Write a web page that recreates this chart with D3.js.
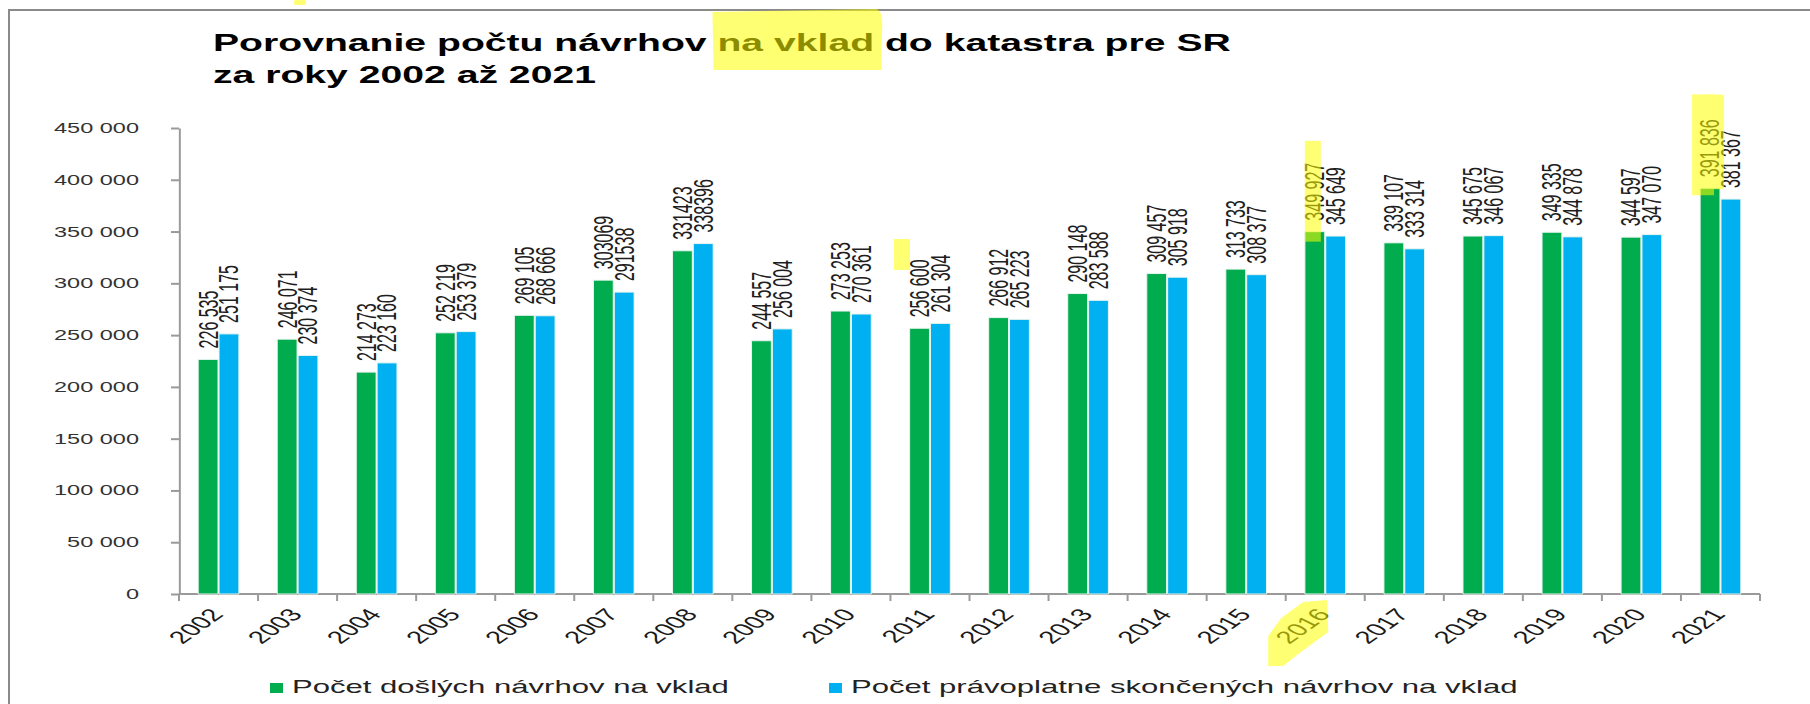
<!DOCTYPE html>
<meta charset="utf-8">
<head>
	<title>Porovnanie počtu návrhov na vklad do katastra pre SR</title>
	<script src="https://cdn.jsdelivr.net/npm/d3@7"></script>
	<style>
		body { margin: 0; background: #fff; }
		svg text { font-family: "Liberation Sans", Arial, sans-serif; }
		.ln { vector-effect: non-scaling-stroke; }
	</style>
</head>
<body>
<div id="chart"></div>
<script>
	// data
	var years = ["2002", "2003", "2004", "2005", "2006", "2007", "2008", "2009", "2010", "2011",
		"2012", "2013", "2014", "2015", "2016", "2017", "2018", "2019", "2020", "2021"];
	var dosle = [226535, 246071, 214273, 252219, 269105, 303069, 331423, 244557, 273253, 256600,
		266912, 290148, 309457, 313733, 349927, 339107, 345675, 349335, 344597, 391836];
	var skoncene = [251175, 230374, 223160, 253379, 268666, 291538, 338396, 256004, 270361, 261304,
		265223, 283588, 305918, 308377, 345649, 333314, 346067, 344878, 347070, 381367];
	var yTicks = [0, 50000, 100000, 150000, 200000, 250000, 300000, 350000, 400000, 450000];
	var noSpaceYears = ["2007", "2008"]; // these labels have no thousands space
	var seriesNames = ["Počet došlých návrhov na vklad", "Počet právoplatne skončených návrhov na vklad"];
	var titleLines = ["Porovnanie počtu návrhov na vklad do katastra pre SR", "za roky 2002 až 2021"];
	var colors = ["#00ac4e", "#00b0f0"];
	var markedLabels = ["2016", "2021"]; // yellow marker over first-series label

	var W = 1810, H = 704;
	// the original picture is stretched horizontally
	var sx = 1.68;
	var vbW = W / sx;
	function X(px) { return px / sx; }

	var fmt = d3.formatLocale({ decimal: ",", thousands: " ", grouping: [3], currency: ["", ""] }).format(",");

	var svg = d3.select("#chart").append("svg")
		.attr("width", W).attr("height", H)
		.attr("viewBox", [0, 0, vbW, H])
		.attr("preserveAspectRatio", "none");

	// frame
	svg.append("rect").attr("class", "ln")
		.attr("x", X(9)).attr("y", 10).attr("width", vbW).attr("height", H)
		.style("fill", "none").style("stroke", "#8a8a8a").style("stroke-width", 2);

	// title
	var titles = svg.selectAll(".title").data(titleLines).enter().append("text")
		.attr("class", "title")
		.attr("x", X(213))
		.attr("y", function (d, i) { return 51 + i * 32; })
		.style("font-size", "23.3px").style("font-weight", "bold").style("fill", "#000")
		.text(function (d) { return d; });

	var x = d3.scaleBand().domain(years).range([X(179), X(1760)]);
	var xs = d3.scaleBand().domain([0, 1]).range([0, x.bandwidth()]).paddingInner(0.05).paddingOuter(0.92);
	var y = d3.scaleLinear().domain([0, 450000]).range([594, 128]);

	// y axis
	var yAxis = svg.append("g")
		.attr("transform", "translate(" + X(179) + ",0)")
		.call(d3.axisLeft(y).tickValues(yTicks).tickFormat(fmt).tickSize(X(8)).tickSizeOuter(0).tickPadding(X(32)));
	yAxis.selectAll("path, line").attr("class", "ln").style("stroke", "#9a9a9a").style("stroke-width", 2);
	yAxis.selectAll("text").style("font-size", "14px").style("fill", "#333").attr("font-family", null);

	// x axis
	var xa = svg.append("g");
	xa.append("line").attr("class", "ln")
		.attr("x1", x.range()[0]).attr("x2", x.range()[1]).attr("y1", y(0)).attr("y2", y(0))
		.style("stroke", "#9a9a9a").style("stroke-width", 2);
	var bounds = years.map(function (d) { return x(d); }).concat([x.range()[1]]);
	xa.selectAll(".tk").data(bounds).enter().append("line").attr("class", "ln")
		.attr("x1", function (d) { return d; }).attr("x2", function (d) { return d; })
		.attr("y1", y(0)).attr("y2", y(0) + 7)
		.style("stroke", "#9a9a9a").style("stroke-width", 2);
	xa.selectAll(".yl").data(years).enter().append("text")
		.attr("transform", function (d) {
			return "translate(" + (x(d) + x.bandwidth() / 2 + X(6)) + "," + (y(0) + 21) + ") rotate(-50)";
		})
		.style("text-anchor", "end").style("font-size", "17.5px").style("fill", "#1a1a1a")
		.text(function (d) { return d; });

	// bars
	var series = [dosle, skoncene];
	var groups = svg.selectAll(".grp").data(years).enter().append("g")
		.attr("transform", function (d) { return "translate(" + x(d) + ",0)"; });

	groups.selectAll("rect").data(function (d, i) { return series.map(function (s) { return s[i]; }); })
		.enter().append("rect").attr("class", "ln")
		.attr("x", function (d, j) { return xs(j); })
		.attr("y", function (d) { return y(d); })
		.attr("width", xs.bandwidth())
		.attr("height", function (d) { return y(0) - y(d); })
		.style("fill", function (d, j) { return colors[j]; })
		.style("stroke", "#e8f4ee").style("stroke-width", 1);

	groups.selectAll(".val").data(function (yr, i) {
			return series.map(function (s) { return { yr: yr, v: s[i] }; });
		})
		.enter().append("text").attr("class", "val")
		.attr("transform", function (d, j) {
			return "translate(" + (xs(j) + xs.bandwidth() / 2) + "," + (y(d.v) - 11) + ") rotate(-90)";
		})
		.attr("dy", "0.35em")
		.style("text-anchor", "start").style("font-size", "16px").style("fill", "#1e1e1e")
		.text(function (d) { return noSpaceYears.indexOf(d.yr) >= 0 ? String(d.v) : fmt(d.v); });

	// legend
	var leg = svg.selectAll(".leg").data(seriesNames).enter().append("g")
		.attr("transform", function (d, i) { return "translate(" + X(i === 0 ? 270 : 829) + ",0)"; });
	leg.append("rect").attr("x", 0).attr("y", 683).attr("width", X(13)).attr("height", 10)
		.style("fill", function (d, i) { return colors[i]; });
	leg.append("text").attr("x", X(22)).attr("y", 693)
		.style("font-size", "18.5px").style("fill", "#222")
		.text(function (d) { return d; });

	// yellow highlighter marks
	var hl = svg.append("g").style("fill", "#ffff00").style("opacity", 0.55);

	var t1 = titles.nodes()[0];
	var idx = titleLines[0].indexOf("na vklad");
	var hx = t1.getStartPositionOfChar(idx).x;
	var hw = t1.getSubStringLength(idx, 8);
	hl.append("path").attr("d",
		"M" + (hx - X(5)) + ",12 L" + (hx + hw + X(2)) + ",9 Q" + (hx + hw + X(9)) + ",10 " + (hx + hw + X(8)) + ",30" +
		" L" + (hx + hw + X(7)) + ",70 L" + (hx - X(4)) + ",70 Z");
	hl.append("rect").attr("x", X(294)).attr("y", 0).attr("width", X(12)).attr("height", 5).attr("rx", 1);
	hl.append("rect").attr("x", x("2011") + X(3.5)).attr("y", 239).attr("width", X(16)).attr("height", 31);

	var valNodes = groups.selectAll(".val").nodes();
	markedLabels.forEach(function (yr) {
		var i = years.indexOf(yr);
		var node = valNodes[i * 2];
		var len = node.getComputedTextLength();
		var cx = x(yr) + xs(0) + xs.bandwidth() / 2;
		var top = y(dosle[i]) - 11 - len - 22;
		var bot = y(dosle[i]) - 11 + 21;
		if (yr === "2021") {
			hl.append("rect").attr("x", cx - X(18)).attr("y", top - 3).attr("width", X(22)).attr("height", bot - top);
			hl.append("rect").attr("x", cx - X(6)).attr("y", top - 3).attr("width", X(20)).attr("height", bot - top - 6).attr("rx", 2);
		} else {
			hl.append("rect").attr("x", cx - X(10)).attr("y", top).attr("width", X(16)).attr("height", bot - top);
		}
	});

	var c16 = x("2016") + x.bandwidth() / 2;
	var y0 = y(0);
	var blob = [[-57, 72], [-57, 42], [-44, 24], [-22, 8], [2, 6], [3, 38], [-27, 60], [-42, 72]];
	hl.append("path").attr("d", "M" + blob.map(function (p) { return (c16 + X(p[0])) + "," + (y0 + p[1]); }).join(" L") + " Z");
</script>
</body>
</html>
